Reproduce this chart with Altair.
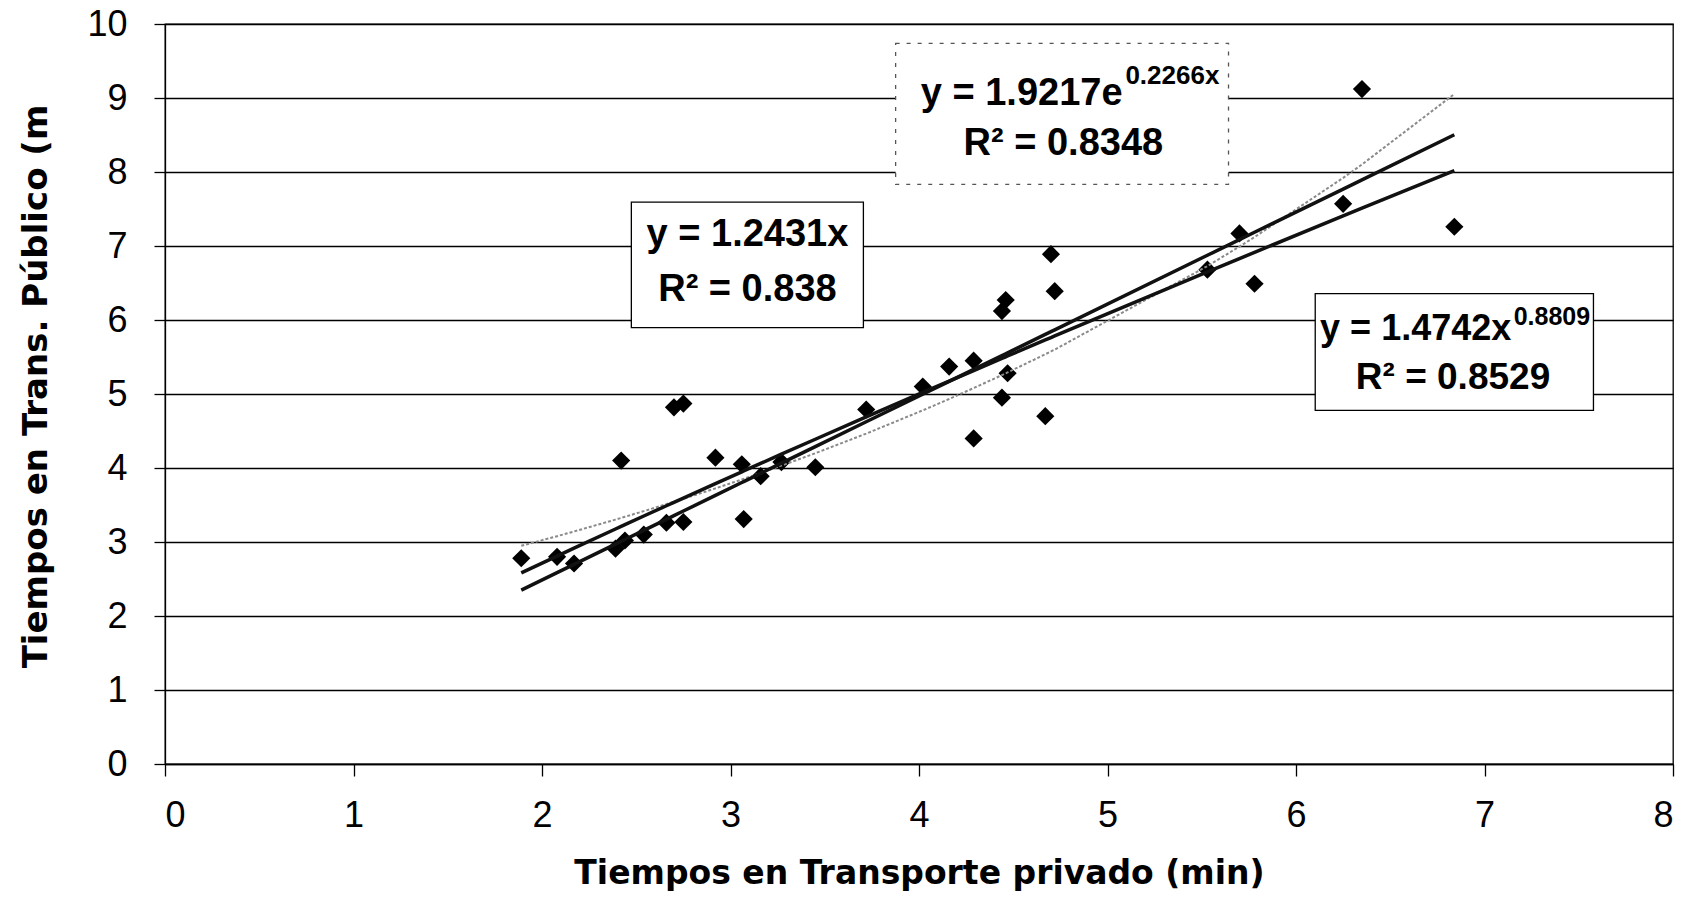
import altair as alt
import pandas as pd

# ---- data ----
tiempo_privado = [1.89, 2.08, 2.17, 2.39, 2.42, 2.44, 2.54, 2.66, 2.70, 2.75,
                  2.75, 2.92, 3.06, 3.07, 3.16, 3.27, 3.45, 3.72, 4.02, 4.16,
                  4.29, 4.29, 4.44, 4.47, 4.44, 4.46, 4.67, 4.70, 4.72, 5.53,
                  5.70, 5.78, 6.25, 6.35, 6.84]
tiempo_publico = [2.78, 2.80, 2.71, 2.91, 4.10, 3.02, 3.10, 3.26, 4.82, 4.87,
                  3.27, 4.14, 4.05, 3.31, 3.89, 4.08, 4.01, 4.79, 5.10, 5.37,
                  5.45, 4.40, 4.95, 5.28, 6.12, 6.27, 4.70, 6.89, 6.39, 6.68,
                  7.17, 6.49, 7.57, 9.12, 7.26]

# trend-line coefficients as printed on the chart
lin_a = 1.2431
pow_a, pow_b = 1.4742, 0.8809
exp_a, exp_b = 1.9217, 0.2266

x_ticks = [0, 1, 2, 3, 4, 5, 6, 7, 8]
y_ticks = [0, 1, 2, 3, 4, 5, 6, 7, 8, 9, 10]

df = pd.DataFrame({"x": tiempo_privado, "y": tiempo_publico})

LABEL_FONT = "Liberation Sans"
TITLE_FONT = "DejaVu Sans"
PLOT_W, PLOT_H = 1508, 740

xscale = alt.Scale(domain=[0, 8], nice=False, zero=False)
yscale = alt.Scale(domain=[0, 10], nice=False, zero=False)

x_axis = alt.Axis(
    values=x_ticks, grid=False, tickSize=12, tickColor="black", tickWidth=1.3,
    domainColor="black", domainWidth=1.3, labelFont=LABEL_FONT,
    labelFontSize=36, labelColor="black", labelPadding=22,
    title="Tiempos en Transporte privado (min)", titleFont=TITLE_FONT,
    titleFontSize=33, titleFontWeight="bold", titleColor="black",
    titleX=PLOT_W / 2, titleY=109, titleAlign="center", titleBaseline="middle")
y_axis = alt.Axis(
    values=y_ticks, grid=True, gridColor="black", gridWidth=1.3,
    gridOpacity=1, tickSize=11, tickColor="black", tickWidth=1.3,
    domainColor="black", domainWidth=1.3, labelFont=LABEL_FONT,
    labelFontSize=36, labelColor="black", labelPadding=27,
    title="Tiempos en Trans. Público (m", titleFont=TITLE_FONT,
    titleFontSize=34, titleFontWeight="bold", titleColor="black",
    titleAngle=270, titleX=-129, titleY=362, titleAlign="center",
    titleBaseline="middle")

def X(field):
    return alt.X(field, scale=xscale, axis=x_axis)

def Y(field):
    return alt.Y(field, scale=yscale, axis=y_axis)

base = alt.Chart(df)

points = base.mark_point(shape="diamond", filled=True, size=330,
                         color="black", opacity=1).encode(x=X("x:Q"), y=Y("y:Q"))

def trend(expr, **style):
    return base.transform_calculate(yt=expr).mark_line(**style).encode(
        x=X("x:Q"), y=Y("yt:Q"), order="x:Q")

exp_line = trend(f"{exp_a}*exp({exp_b}*datum.x)", color="#8a8a8a",
                 strokeWidth=2, strokeDash=[3, 2])
lin_line = trend(f"{lin_a}*datum.x", color="#111111", strokeWidth=3.5)
pow_line = trend(f"{pow_a}*pow(datum.x,{pow_b})", color="#111111", strokeWidth=3.5)

# ---- annotation boxes (data coordinates) ----
boxes_solid = pd.DataFrame({
    "x1": [2.474, 6.102], "x2": [3.705, 7.578],
    "y1": [7.592, 6.356], "y2": [5.897, 4.778]})
boxes_dashed = pd.DataFrame({"x1": [3.876], "x2": [5.642],
                             "y1": [9.737], "y2": [7.834]})

def rect_layer(d, **style):
    return alt.Chart(d).mark_rect(fill="white", **style).encode(
        x=X("x1:Q"), x2="x2:Q", y=Y("y1:Q"), y2="y2:Q")

rect_solid = rect_layer(boxes_solid, stroke="black", strokeWidth=1.3)
rect_dashed = rect_layer(boxes_dashed, stroke="#555555", strokeWidth=1.3,
                         strokeDash=[4, 7])

def label(text, x, y, align, size):
    d = pd.DataFrame({"t": [text], "x": [x], "y": [y]})
    return alt.Chart(d).mark_text(align=align, baseline="alphabetic",
                                  font=LABEL_FONT, fontWeight="bold",
                                  fontSize=size, color="black").encode(
        x=X("x:Q"), y=Y("y:Q"), text="t:N")

texts = alt.layer(
    # linear fit box
    label("y = 1.2431x", 3.09, 7.00, "center", 38),
    label("R\u00b2 = 0.838", 3.09, 6.26, "center", 38),
    # exponential fit box
    label("y = 1.9217e", 5.08, 8.90, "right", 38),
    label("0.2266x", 5.095, 9.19, "left", 26),
    label("R\u00b2 = 0.8348", 4.766, 8.234, "center", 38),
    # power fit box
    label("y = 1.4742x", 7.142, 5.724, "right", 36),
    label("0.8809", 7.155, 5.93, "left", 25),
    label("R\u00b2 = 0.8529", 6.833, 5.071, "center", 37),
)

chart = alt.layer(
    points, exp_line, lin_line, pow_line, rect_solid, rect_dashed, texts
).properties(
    width=PLOT_W, height=PLOT_H,
    autosize=alt.AutoSizeParams(type="none"),
    padding={"left": 165, "top": 24, "right": 20, "bottom": 137},
    background="white",
).configure_view(stroke="black", strokeWidth=1.3)

chart.save("out.html", embed_options={"renderer": "svg", "actions": False})
